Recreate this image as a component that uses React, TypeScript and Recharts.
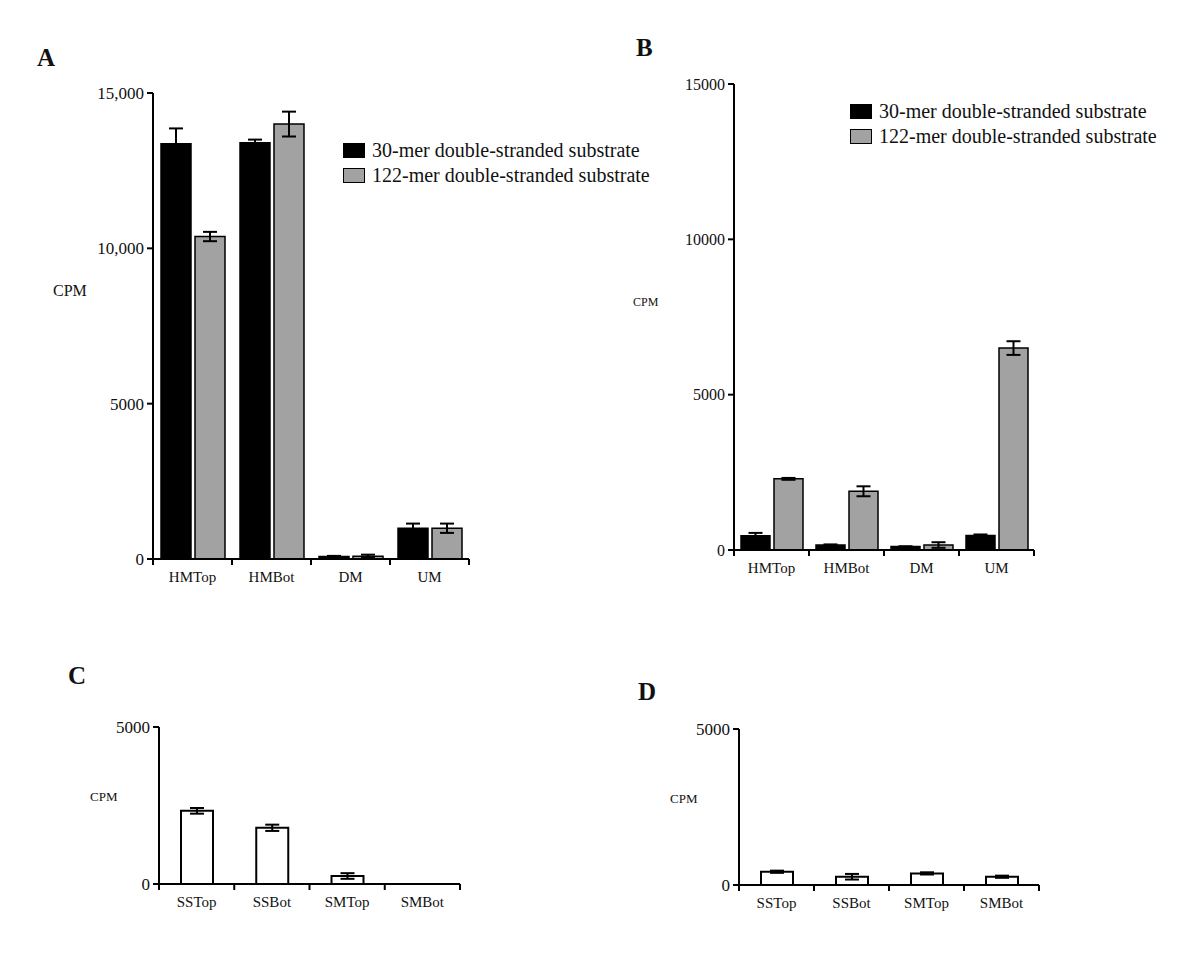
import React from "react";
import { BarChart, Bar, XAxis, YAxis, ErrorBar } from "recharts";

// categories
const DS_CATEGORIES = ["HMTop", "HMBot", "DM", "UM"];
const SS_CATEGORIES = ["SSTop", "SSBot", "SMTop", "SMBot"];
const SERIES_NAMES = ["30-mer double-stranded substrate", "122-mer double-stranded substrate"];

// panel A
const A_30MER = [13370, 13400, 80, 990];
const A_30MER_ERR = [490, 100, 20, 150];
const A_122MER = [10380, 14000, 90, 990];
const A_122MER_ERR = [150, 400, 50, 150];

// panel B
const B_30MER = [460, 160, 110, 470];
const B_30MER_ERR = [90, 20, 10, 30];
const B_122MER = [2290, 1890, 160, 6500];
const B_122MER_ERR = [30, 160, 90, 220];

// panels C and D
const C_VALUES = [2330, 1790, 255, 0];
const C_ERR = [90, 100, 90, null];
const D_VALUES = [425, 265, 372, 265];
const D_ERR = [35, 90, 35, 35];

// y ticks
const AB_TICKS = [0, 5000, 10000, 15000];
const A_TICK_LABELS = ["0", "5000", "10,000", "15,000"];
const B_TICK_LABELS = ["0", "5000", "10000", "15000"];
const CD_TICKS = [0, 5000];
const CD_TICK_LABELS = ["0", "5000"];

const FONT = "'Liberation Serif', 'DejaVu Serif', serif";
const INK = "#111";
const TICK_GAP = 12;

const dsData = (a: number[], ae: number[], b: number[], be: number[]) =>
  DS_CATEGORIES.map((cat, i) => ({ cat, s1: a[i], e1: ae[i], s2: b[i], e2: be[i] }));

const ssData = (v: number[], e: (number | null)[]) =>
  SS_CATEGORIES.map((cat, i) => ({ cat, s1: v[i], e1: e[i] }));

const SERIES_STYLE = [
  { fill: "#000", stroke: "#000" },
  { fill: "#a2a2a2", stroke: "#000" },
];

function LegendBox({ left, top, fontSize }: { left: number; top: number; fontSize: number }) {
  return (
    <div
      style={{
        position: "absolute",
        left,
        top,
        fontFamily: FONT,
        fontSize,
        color: INK,
        lineHeight: "25px",
        whiteSpace: "nowrap",
      }}
    >
      {SERIES_NAMES.map((name, i) => (
        <div key={name} style={{ display: "flex", alignItems: "center" }}>
          <span
            style={{
              display: "inline-block",
              width: 20,
              height: 13,
              background: SERIES_STYLE[i].fill,
              border: "1.5px solid #000",
              marginRight: 7,
            }}
          />
          {name}
        </div>
      ))}
    </div>
  );
}

// category label plus a tick mark on the band boundary (left of each band, and right of the last)
function BoundaryTick(props: any) {
  const { x, y, payload, index, band, count } = props;
  const axisY = y - TICK_GAP;
  const lx = x - band / 2;
  const rx = x + band / 2;
  return (
    <g>
      <line x1={lx} y1={axisY} x2={lx} y2={axisY + 6} stroke="#000" strokeWidth={2} />
      {index === count - 1 && <line x1={rx} y1={axisY} x2={rx} y2={axisY + 6} stroke="#000" strokeWidth={2} />}
      <text x={x} y={y} dy="0.71em" textAnchor="middle" fill={INK} fontSize={15} fontFamily={FONT}>
        {payload.value}
      </text>
    </g>
  );
}

interface PanelProps {
  box: [number, number, number, number]; // plot x0, x1, y0, y1
  data: any[];
  series: number;
  ticks: number[];
  tickLabels: string[];
  max: number;
  barSize: number;
  barGap: number;
  yFont: number;
  white?: boolean;
}

function Panel({ box, data, series, ticks, tickLabels, max, barSize, barGap, yFont, white }: PanelProps) {
  const [x0, x1, y0, y1] = box;
  const m = { top: 20, left: 10, right: 20, bottom: 20 };
  const yw = 70;
  const xh = 30;
  const left = x0 - yw - m.left;
  const top = y0 - m.top;
  const width = x1 - x0 + yw + m.left + m.right;
  const height = y1 - y0 + m.top + m.bottom + xh;
  const band = (x1 - x0) / data.length;
  return (
    <div style={{ position: "absolute", left, top }}>
      <BarChart width={width} height={height} data={data} margin={m} barSize={barSize} barGap={barGap}>
        <XAxis
          dataKey="cat"
          height={xh}
          interval={0}
          axisLine={{ stroke: "#000", strokeWidth: 2 }}
          tickLine={false}
          tickSize={0}
          tickMargin={TICK_GAP}
          tick={(p: any) => <BoundaryTick {...p} band={band} count={data.length} />}
        />
        <YAxis
          width={yw}
          domain={[0, max]}
          ticks={ticks}
          interval={0}
          tickFormatter={(_v: any, i: number) => tickLabels[i]}
          axisLine={{ stroke: "#000", strokeWidth: 2 }}
          tickLine={{ stroke: "#000", strokeWidth: 2 }}
          tickSize={6}
          tickMargin={3}
          tick={{ fill: INK, fontSize: yFont, fontFamily: FONT }}
        />
        {white ? (
          <Bar dataKey="s1" fill="#fff" stroke="#000" strokeWidth={2} isAnimationActive={false}>
            <ErrorBar dataKey="e1" width={7} stroke="#000" strokeWidth={2} direction="y" />
          </Bar>
        ) : (
          Array.from({ length: series }, (_, k) => (
            <Bar
              key={k}
              dataKey={`s${k + 1}`}
              name={SERIES_NAMES[k]}
              fill={SERIES_STYLE[k].fill}
              stroke={SERIES_STYLE[k].stroke}
              strokeWidth={1.5}
              isAnimationActive={false}
            >
              <ErrorBar dataKey={`e${k + 1}`} width={7} stroke="#000" strokeWidth={2} direction="y" />
            </Bar>
          ))
        )}
      </BarChart>
    </div>
  );
}

const label = (text: string, left: number, top: number, size: number, bold = false) => (
  <div
    style={{
      position: "absolute",
      left,
      top,
      fontFamily: FONT,
      fontSize: size,
      fontWeight: bold ? 700 : 400,
      color: INK,
      lineHeight: 1,
      whiteSpace: "nowrap",
    }}
  >
    {text}
  </div>
);

export default function App() {
  return (
    <div style={{ position: "absolute", left: 0, top: 0, width: 1200, height: 953, background: "#fff", overflow: "hidden" }}>
      {label("A", 37, 45, 25, true)}
      {label("B", 636, 35, 25, true)}
      {label("C", 68, 663, 25, true)}
      {label("D", 638, 679, 25, true)}
      {label("CPM", 53, 283, 16)}
      {label("CPM", 633, 296, 12)}
      {label("CPM", 90, 790, 13)}
      {label("CPM", 670, 792, 13)}

      <Panel
        box={[153, 469, 93, 559]}
        data={dsData(A_30MER, A_30MER_ERR, A_122MER, A_122MER_ERR)}
        series={2}
        ticks={AB_TICKS}
        tickLabels={A_TICK_LABELS}
        max={15000}
        barSize={30}
        barGap={4}
        yFont={17}
      />
      <Panel
        box={[734, 1034, 84, 550]}
        data={dsData(B_30MER, B_30MER_ERR, B_122MER, B_122MER_ERR)}
        series={2}
        ticks={AB_TICKS}
        tickLabels={B_TICK_LABELS}
        max={15000}
        barSize={29}
        barGap={4}
        yFont={16}
      />
      <Panel
        box={[159, 460, 727, 884]}
        data={ssData(C_VALUES, C_ERR)}
        series={1}
        ticks={CD_TICKS}
        tickLabels={CD_TICK_LABELS}
        max={5000}
        barSize={32}
        barGap={4}
        yFont={17}
        white
      />
      <Panel
        box={[739, 1039, 729, 885]}
        data={ssData(D_VALUES, D_ERR)}
        series={1}
        ticks={CD_TICKS}
        tickLabels={CD_TICK_LABELS}
        max={5000}
        barSize={32}
        barGap={4}
        yFont={17}
        white
      />
      <LegendBox left={343} top={138} fontSize={20} />
      <LegendBox left={850} top={99} fontSize={20} />
    </div>
  );
}
